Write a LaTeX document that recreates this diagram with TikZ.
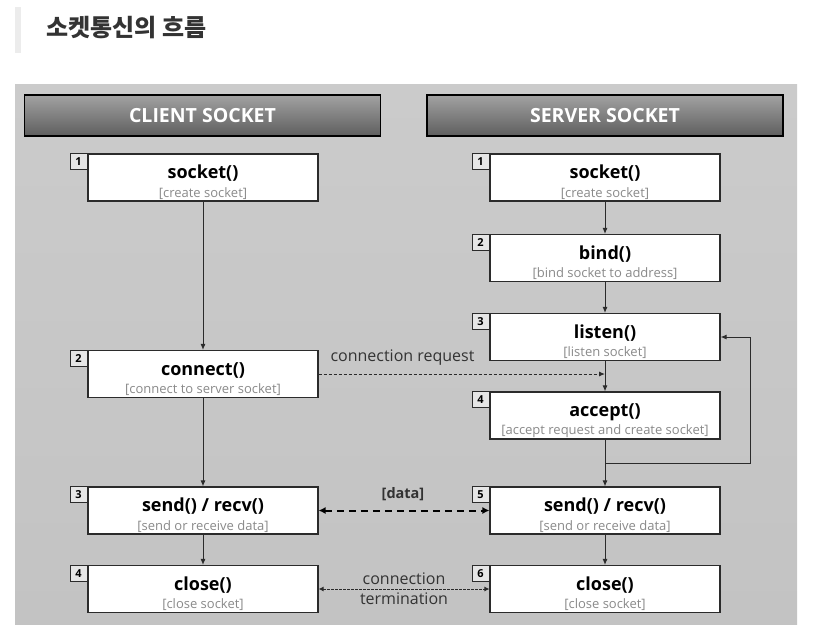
\documentclass[tikz,border=0pt]{standalone}
\usepackage{fontspec}
\setmainfont{Open Sans}
\newfontfamily\kofont{Noto Sans CJK KR}
\usetikzlibrary{arrows.meta}
\definecolor{fond}{HTML}{CBCBCB}
\definecolor{fondbas}{HTML}{C3C3C3}
\definecolor{titrehaut}{HTML}{A2A2A2}
\definecolor{titrebas}{HTML}{5E5E5E}
\definecolor{gristexte}{HTML}{8A8A8A}
\definecolor{trait}{HTML}{2B2B2B}
\definecolor{numfond}{HTML}{E6E6E6}
\definecolor{barre}{HTML}{ECECEC}
\newcommand{\fonc}[2]{\rule{0pt}{23pt}{\bfseries\fontsize{18}{18}\selectfont #1}\\{\color{gristexte}\fontsize{13}{18}\selectfont #2}}
\tikzset{
  entete/.style={draw=black, line width=1.6pt, top color=titrehaut, bottom color=titrebas,
    minimum width=356, minimum height=41, text=white, font=\bfseries\fontsize{19.5}{20}\selectfont},
  boite/.style={draw=trait, line width=1.1pt, fill=white, minimum width=230, minimum height=47,
    align=center, inner sep=0pt, font=\fontsize{13}{18.5}\selectfont},
  numero/.style={draw=trait, line width=0.9pt, fill=numfond, minimum width=17, minimum height=16,
    inner sep=0pt, anchor=north east, font=\bfseries\fontsize{11}{11}\selectfont},
  fleche/.style={draw=trait, line width=1pt, -{Latex[length=6pt,width=5pt]}},
  etiq/.style={font=\fontsize{16}{17}\selectfont, text=black!80}
}
\begin{document}
\begin{tikzpicture}[x=1pt,y=-1pt]
\useasboundingbox (0,0) rectangle (824,638);
% titre
\fill [barre] (15,7) rectangle (21,53);
\node [anchor=west, text=black!80, font=\kofont\bfseries\fontsize{24}{25}\selectfont] (titre) at (43,28) {소켓통신의 흐름};
% fond
\shade [top color=fond, bottom color=fondbas] (15,84) rectangle (797,624);
\node [entete] (client) at (202.5,115.5) {CLIENT SOCKET};
\node [entete] (serveur) at (605,115.5) {SERVER SOCKET};
% client
\node [boite] (csocket) at (203,177.5) {\fonc{socket()}{[create socket]}};
\node [boite] (cconnect) at (203,374) {\fonc{connect()}{[connect to server socket]}};
\node [boite] (csend) at (203,510.5) {\fonc{send() / recv()}{[send or receive data]}};
\node [boite] (cclose) at (203,589) {\fonc{close()}{[close socket]}};
% serveur
\node [boite] (ssocket) at (605,177.5) {\fonc{socket()}{[create socket]}};
\node [boite] (sbind) at (605,258) {\fonc{bind()}{[bind socket to address]}};
\node [boite] (slisten) at (605,337) {\fonc{listen()}{[listen socket]}};
\node [boite] (saccept) at (605,415.5) {\fonc{accept()}{[accept request and create socket]}};
\node [boite] (ssend) at (605,510.5) {\fonc{send() / recv()}{[send or receive data]}};
\node [boite] (sclose) at (605,589) {\fonc{close()}{[close socket]}};
% numeros
\node [numero] (n1) at (csocket.north west) {1};
\node [numero] (n2) at (cconnect.north west) {2};
\node [numero] (n3) at (csend.north west) {3};
\node [numero] (n4) at (cclose.north west) {4};
\node [numero] (m1) at (ssocket.north west) {1};
\node [numero] (m2) at (sbind.north west) {2};
\node [numero] (m3) at (slisten.north west) {3};
\node [numero] (m4) at (saccept.north west) {4};
\node [numero] (m5) at (ssend.north west) {5};
\node [numero] (m6) at (sclose.north west) {6};
% fleches
\draw [fleche] (csocket) -- (cconnect);
\draw [fleche] (cconnect) -- (csend);
\draw [fleche] (csend) -- (cclose);
\draw [fleche] (ssocket) -- (sbind);
\draw [fleche] (sbind) -- (slisten);
\draw [fleche] (slisten) -- (saccept);
\draw [fleche] (saccept) -- (ssend);
\draw [fleche] (ssend) -- (sclose);
% boucle
\coordinate (boucle) at (605,463);
\draw [fleche] (boucle) -- ++(145,0) |- (slisten.east);
% echanges
\draw [fleche, dashed, dash pattern=on 3pt off 2pt] (cconnect.east) -- (slisten.south |- cconnect.east);
\node [etiq, anchor=south west] (req) at (327,369) {connection request};
\draw [draw=black, line width=2pt, dash pattern=on 7pt off 5pt, {Latex[length=7pt,width=7pt]}-{Latex[length=7pt,width=7pt]}] (csend.east) -- (ssend.west);
\node [font=\bfseries\fontsize{14.5}{15}\selectfont, text=black!80] (data) at (403,494) {[data]};
\draw [fleche, dash pattern=on 2.5pt off 1.5pt, {Latex[length=5pt,width=5pt]}-{Latex[length=5pt,width=5pt]}] (cclose.east) -- (sclose.west);
\node [etiq] (conn) at (404,579) {connection};
\node [etiq] (term) at (404,599) {termination};
\end{tikzpicture}
\end{document}
